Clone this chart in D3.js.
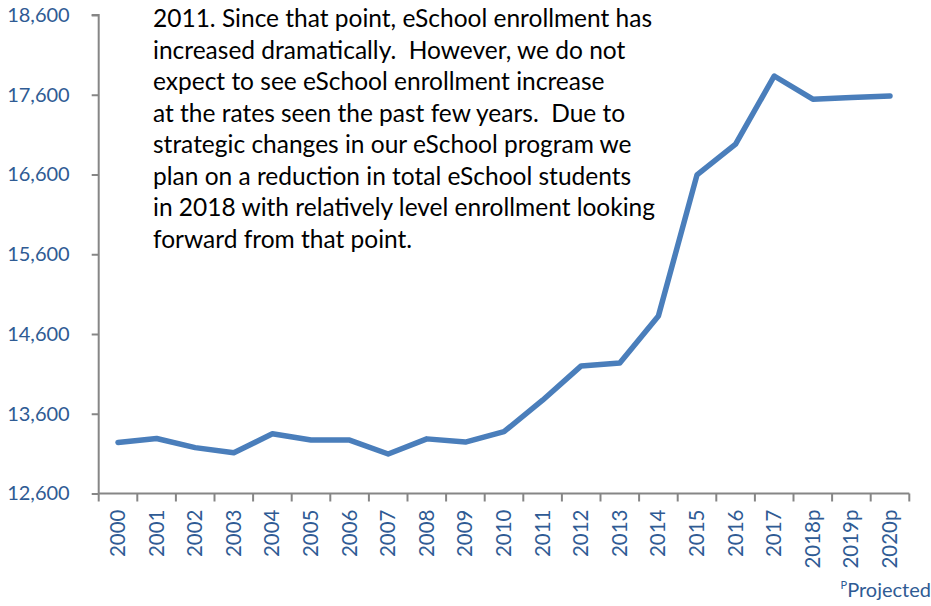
<!DOCTYPE html>
<html>
<head>
<meta charset="utf-8">
<script src="https://cdn.jsdelivr.net/npm/d3@7/dist/d3.min.js"></script>
<style>
  html, body { margin: 0; padding: 0; background: #fff; }
  svg { display: block; }
</style>
</head>
<body>
<svg id="chart" width="931" height="606"></svg>
<script>
// eSchool enrollment by year (p = projected)
const years = ["2000","2001","2002","2003","2004","2005","2006","2007","2008","2009","2010",
               "2011","2012","2013","2014","2015","2016","2017","2018p","2019p","2020p"];
const enrollment = [13240, 13290, 13175, 13110, 13350, 13270, 13270, 13095, 13285, 13245, 13375,
                    13770, 14200, 14235, 14825, 16595, 16980, 17835, 17545, 17565, 17585];
const yTicks = [12600, 13600, 14600, 15600, 16600, 17600, 18600];
const noteLines = [
  "2011. Since that point, eSchool enrollment has",
  "increased dramatically.  However, we do not",
  "expect to see eSchool enrollment increase",
  "at the rates seen the past few years.  Due to",
  "strategic changes in our eSchool program we",
  "plan on a reduction in total eSchool students",
  "in 2018 with relatively level enrollment looking",
  "forward from that point."
];

(function draw() {
  const svg = d3.select("#chart");
  const font = "Lato, 'Open Sans', sans-serif";
  const axisGrey = "#868686";
  const labelBlue = "#2f5b94";
  const lineBlue = "#4a7ebb";

  const plotLeft = 98.7, plotRight = 909.3, plotTop = 15, plotBottom = 493.5;

  const x = d3.scaleBand().domain(years).range([plotLeft, plotRight]).paddingInner(0).paddingOuter(0);
  const y = d3.scaleLinear().domain([12600, 18600]).range([plotBottom, plotTop]);

  // y axis
  const yAxis = svg.append("g")
    .attr("transform", `translate(${plotLeft},0)`)
    .call(d3.axisLeft(y).tickValues(yTicks).tickSize(7).tickPadding(22)
          .tickFormat(d3.format(",")));
  yAxis.select(".domain").attr("stroke", axisGrey).attr("stroke-width", 2)
    .attr("d", `M-7,${plotTop}H0V${plotBottom}`);
  yAxis.selectAll(".tick line").attr("stroke", axisGrey).attr("stroke-width", 2);
  yAxis.selectAll(".tick text")
    .attr("fill", labelBlue).attr("font-family", font).attr("font-size", 20);

  // x axis with ticks on category boundaries
  const xg = svg.append("g").attr("transform", `translate(0,${plotBottom})`);
  xg.append("line").attr("x1", plotLeft).attr("x2", plotRight).attr("stroke", axisGrey).attr("stroke-width", 2);
  const bounds = years.map(d => x(d)).concat([x(years[years.length - 1]) + x.bandwidth()]);
  xg.selectAll("line.tk").data(bounds).join("line").attr("class", "tk")
    .attr("x1", d => d).attr("x2", d => d).attr("y1", 0).attr("y2", 8)
    .attr("stroke", axisGrey).attr("stroke-width", 2);
  xg.selectAll("text").data(years).join("text")
    .attr("transform", d => `translate(${x(d) + x.bandwidth() / 2 + 7},16) rotate(-90)`)
    .attr("text-anchor", "end")
    .attr("fill", labelBlue).attr("font-family", font).attr("font-size", 20.5)
    .text(d => d);

  // enrollment line
  const line = d3.line()
    .x((d, i) => x(years[i]) + x.bandwidth() / 2)
    .y(d => y(d));
  svg.append("path").datum(enrollment)
    .attr("d", line)
    .attr("fill", "none").attr("stroke", lineBlue).attr("stroke-width", 5.5)
    .attr("stroke-linejoin", "round").attr("stroke-linecap", "round");

  // explanatory note
  svg.append("g").selectAll("text").data(noteLines).join("text")
    .attr("x", 153).attr("y", (d, i) => 27 + i * 31.5)
    .attr("fill", "#000").attr("font-family", font).attr("font-size", 24.5)
    .style("white-space", "pre")
    .text(d => d);

  // projected footnote
  const foot = svg.append("text").attr("x", 931).attr("y", 597).attr("text-anchor", "end")
    .attr("fill", labelBlue).attr("font-family", font);
  foot.append("tspan").attr("font-size", 11).attr("dy", -8).text("P");
  foot.append("tspan").attr("font-size", 20).attr("dy", 8).text("Projected");
})();
</script>
</body>
</html>
